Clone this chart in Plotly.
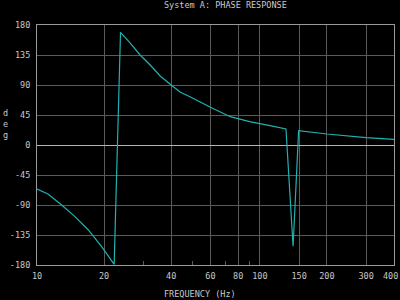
import math
import plotly.graph_objects as go

freq = [10, 11.2, 12.9, 14.8, 17, 19.5, 22.2, 23.7, 26.1, 29, 32.2, 35.7, 40, 44, 48.6, 60, 73.7, 90, 111, 131, 141, 149.3, 200, 263, 300, 400]
phase = [-66, -73.5, -90, -107.5, -127.5, -152.5, -179, 169, 153.5, 135, 120, 103.5, 90, 79, 72.5, 56.5, 42.5, 35, 29, 24, -152, 21.5, 16.5, 12.5, 11, 8.5]

x_ticks = [10, 20, 40, 60, 80, 100, 150, 200, 300, 400]
x_labels = [str(v) for v in x_ticks]
x_minor = [30, 50, 70, 90]
y_ticks = [180, 135, 90, 45, 0, -45, -90, -135, -180]
y_labels = [str(v) for v in y_ticks]

FONT = "DejaVu Sans Mono"
TXT = "#c8c8c8"
GRID = "#5a5a5a"
LINE = "#9a9a9a"

# last label is drawn as an annotation, right-aligned so it stays inside the page
shown_labels = x_labels[:-1] + [""]

fig = go.Figure()
fig.add_trace(go.Scatter(x=freq, y=phase, mode="lines",
                         line=dict(color="#22b0b0", width=1.2), hoverinfo="skip"))

fig.update_layout(
    width=400, height=300,
    margin=dict(l=37, r=6, t=25, b=35),
    paper_bgcolor="black", plot_bgcolor="black",
    showlegend=False,
    font=dict(family=FONT, size=8.5, color=TXT),
    xaxis=dict(type="log", range=[0.99999, 2.60207], tickvals=x_ticks, ticktext=shown_labels,
               showgrid=True, gridcolor=GRID, gridwidth=1,
               showline=True, linecolor=LINE, linewidth=1, mirror=True,
               ticks="outside", ticklen=3, tickcolor="black",
               ticklabeloverflow="allow", automargin=False,
               tickfont=dict(family=FONT, size=8.5, color=TXT),
               minor=dict(tickvals=x_minor, ticks="inside", ticklen=4, tickcolor=GRID, showgrid=False),
               zeroline=False, fixedrange=True),
    yaxis=dict(range=[-180, 180], tickvals=y_ticks, ticktext=y_labels,
               showgrid=True, gridcolor=GRID, gridwidth=1,
               showline=True, linecolor=LINE, linewidth=1, mirror=True,
               ticks="outside", ticklen=4, tickcolor="black", automargin=False,
               tickfont=dict(family=FONT, size=8.5, color=TXT),
               zeroline=True, zerolinecolor="#b4b4b4", zerolinewidth=1,
               fixedrange=True),
    annotations=[
        dict(text="System A: PHASE RESPONSE", xref="paper", yref="paper",
             x=(225 - 37) / 357, y=1, yshift=20, yanchor="middle", xanchor="center",
             showarrow=False, font=dict(family=FONT, size=8.5, color=TXT)),
        dict(text="FREQUENCY (Hz)", xref="paper", yref="paper",
             x=(200 - 37) / 357, y=0, yshift=-29, xanchor="center", yanchor="middle",
             showarrow=False, font=dict(family=FONT, size=8.5, color=TXT)),
        dict(text="d<br>e<br>g", xref="paper", yref="paper",
             x=0, xshift=-32, y=(265 - 124) / 240, xanchor="center", yanchor="middle",
             showarrow=False, align="center", font=dict(family=FONT, size=8.5, color=TXT)),
        dict(text=x_labels[-1], xref="x", yref="paper",
             x=math.log10(x_ticks[-1]), xshift=6, y=0, yshift=-11,
             xanchor="right", yanchor="middle", showarrow=False,
             font=dict(family=FONT, size=8.5, color=TXT)),
    ],
)
fig.write_html("out.html")
